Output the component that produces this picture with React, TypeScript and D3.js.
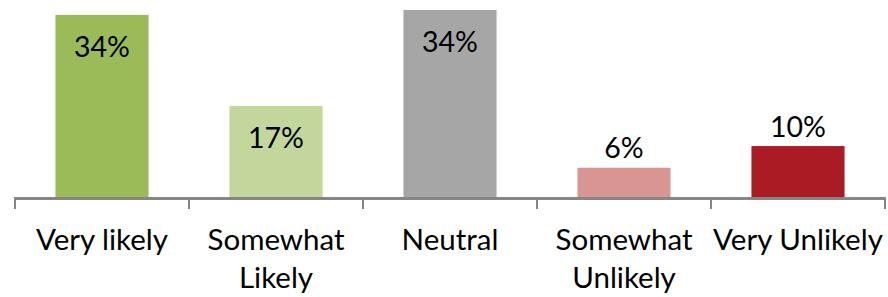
import { useEffect, useRef } from "react";
import * as d3 from "d3";

const categories = ["Very likely", "Somewhat Likely", "Neutral", "Somewhat Unlikely", "Very Unlikely"];
const categoryLines = [["Very likely"], ["Somewhat", "Likely"], ["Neutral"], ["Somewhat", "Unlikely"], ["Very Unlikely"]];
const values = [33.6, 16.8, 34.5, 5.4, 9.4];
const valueLabels = ["34%", "17%", "34%", "6%", "10%"];
const barColors = ["#9BBB59", "#C3D69B", "#A6A6A6", "#D99594", "#AA1B23"];

const App = () => {
  const svgRef = useRef<SVGSVGElement>(null);

  useEffect(() => {
    const svg = d3.select(svgRef.current);
    svg.selectAll("*").remove();

    const width = 888;
    const height = 297;
    const font = "Lato, 'Liberation Sans', sans-serif";

    // Plot area
    const left = 15;
    const right = 885;
    const baseline = 197;
    const top = 10;

    const x = d3.scaleBand()
      .domain(categories)
      .range([left, right])
      .paddingInner(0.465)
      .paddingOuter(0.2325);

    const y = d3.scaleLinear()
      .domain([0, d3.max(values) || 0])
      .range([baseline, top]);

    svg.attr("width", width).attr("height", height);

    const data = categories.map((c, i) => ({ cat: c, value: values[i], label: valueLabels[i], color: barColors[i] }));

    // Bars
    svg.selectAll(".bar")
      .data(data)
      .enter()
      .append("rect")
      .attr("class", "bar")
      .attr("x", (d) => x(d.cat) || 0)
      .attr("y", (d) => y(d.value))
      .attr("width", x.bandwidth())
      .attr("height", (d) => baseline - y(d.value))
      .attr("fill", (d) => d.color);

    // Value labels (inside end for tall bars, outside end for short)
    svg.selectAll(".val")
      .data(data)
      .enter()
      .append("text")
      .attr("class", "val")
      .attr("x", (d) => (x(d.cat) || 0) + x.bandwidth() / 2)
      .attr("y", (d) => d.value > 15 ? y(d.value) + 42 : y(d.value) - 9.5)
      .attr("text-anchor", "middle")
      .style("font-family", font)
      .style("font-size", "28.5px")
      .style("fill", "#000")
      .text((d) => d.label);

    // Category axis with tick marks between bands
    const axisColor = "#868686";
    svg.append("line")
      .attr("x1", left)
      .attr("x2", right)
      .attr("y1", baseline + 1.5)
      .attr("y2", baseline + 1.5)
      .attr("stroke", axisColor)
      .attr("stroke-width", 3);

    const tickXs = d3.range(categories.length + 1).map((i) => left + i * (right - left) / categories.length);
    svg.selectAll(".tick")
      .data(tickXs)
      .enter()
      .append("line")
      .attr("x1", (d) => d)
      .attr("x2", (d) => d)
      .attr("y1", baseline)
      .attr("y2", baseline + 12)
      .attr("stroke", axisColor)
      .attr("stroke-width", 2);

    // Category labels
    const catG = svg.selectAll(".cat")
      .data(data)
      .enter()
      .append("text")
      .attr("class", "cat")
      .attr("text-anchor", "middle")
      .style("font-family", font)
      .style("font-size", "29.5px")
      .style("fill", "#000");

    catG.each(function (d, i) {
      const t = d3.select(this);
      categoryLines[i].forEach((line, j) => {
        t.append("tspan")
          .attr("x", (x(d.cat) || 0) + x.bandwidth() / 2)
          .attr("y", 250 + j * 37.5)
          .text(line);
      });
    });
  }, []);

  return (
    <svg ref={svgRef} style={{ position: "absolute", left: 0, top: 0, background: "#fff" }}></svg>
  );
};

export default App;
